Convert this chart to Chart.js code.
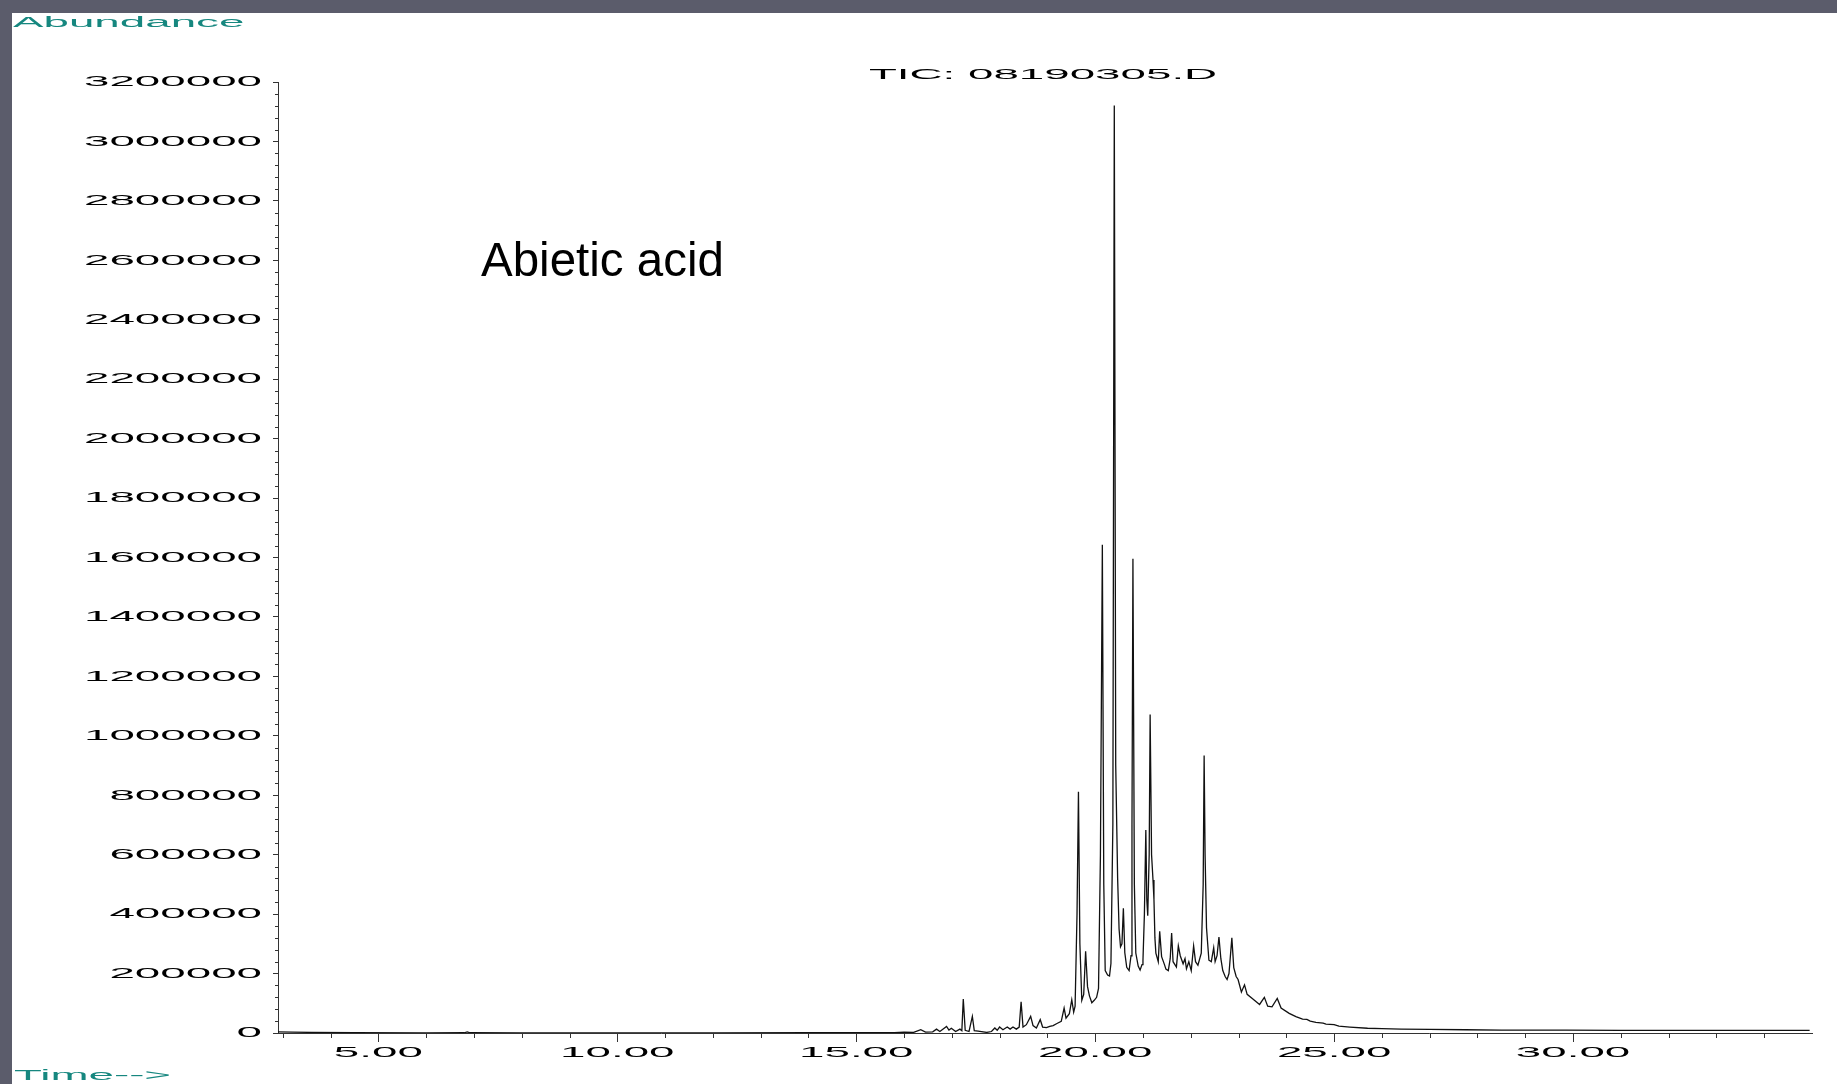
<!DOCTYPE html>
<html>
<head>
<meta charset="utf-8">
<title>TIC: 08190305.D</title>
<script src="https://cdn.jsdelivr.net/npm/chart.js@4.4.0/dist/chart.umd.min.js"></script>
<style>
  html, body { margin: 0; padding: 0; background: #fff; overflow: hidden; }
  canvas { display: block; }
</style>
</head>
<body>
<canvas id="tic" width="1837" height="1084"></canvas>
<script>
// retention time (min) and abundance
const times = [
    2.90, 3.20, 3.60, 4.50, 6.00, 6.80, 6.86, 6.92, 8.00, 10.00,
    12.00, 14.00, 15.00, 15.50, 15.80, 16.00, 16.20, 16.35, 16.45, 16.60,
    16.68, 16.75, 16.89, 16.94, 16.99, 17.08, 17.17, 17.21, 17.24, 17.28,
    17.36, 17.43, 17.47, 17.55, 17.73, 17.83, 17.90, 17.95, 18.00, 18.07,
    18.16, 18.22, 18.28, 18.35, 18.41, 18.45, 18.49, 18.56, 18.65, 18.70,
    18.77, 18.85, 18.90, 18.98, 19.05, 19.12, 19.20, 19.29, 19.35, 19.39,
    19.46, 19.51, 19.55, 19.58, 19.62, 19.65, 19.68, 19.72, 19.76, 19.80,
    19.84, 19.88, 19.93, 19.98, 20.03, 20.07, 20.11, 20.15, 20.18, 20.21,
    20.26, 20.30, 20.33, 20.37, 20.40, 20.43, 20.47, 20.50, 20.53, 20.56,
    20.59, 20.62, 20.66, 20.71, 20.75, 20.77, 20.79, 20.82, 20.85, 20.90,
    20.94, 20.98, 21.00, 21.03, 21.06, 21.08, 21.10, 21.13, 21.15, 21.18,
    21.21, 21.23, 21.25, 21.27, 21.32, 21.35, 21.39, 21.45, 21.48, 21.53,
    21.57, 21.60, 21.63, 21.70, 21.74, 21.78, 21.84, 21.88, 21.91, 21.96,
    22.01, 22.06, 22.10, 22.15, 22.22, 22.26, 22.28, 22.30, 22.33, 22.38,
    22.43, 22.48, 22.51, 22.55, 22.59, 22.63, 22.67, 22.72, 22.76, 22.80,
    22.86, 22.90, 22.95, 22.99, 23.06, 23.125, 23.18, 23.30, 23.44, 23.54,
    23.61, 23.70, 23.81, 23.89, 24.06, 24.20, 24.34, 24.43, 24.50, 24.62,
    24.77, 24.83, 25.00, 25.10, 25.33, 25.70, 26.00, 26.40, 27.00, 27.75,
    28.50, 29.85, 31.00, 33.00, 34.95
];

const abundance = [
    4000, 3000, 2000, 1000, 500, 800, 3500, 800, 500, 500,
    600, 800, 1000, 1500, 1500, 2500, 2000, 11000, 3000, 4000,
    13000, 5000, 22000, 10000, 16000, 5000, 13000, 8000, 114000, 9000,
    5000, 56000, 8000, 6000, 2000, 5000, 17000, 9000, 20000, 11000,
    20000, 13000, 20000, 13000, 20000, 105000, 20000, 28000, 56000, 25000,
    17000, 45000, 20000, 18000, 22000, 25000, 32000, 39000, 84000, 50000,
    65000, 112000, 70000, 90000, 400000, 812000, 300000, 110000, 130000, 275000,
    156000, 125000, 102000, 110000, 120000, 150000, 600000, 1643000, 500000, 210000,
    195000, 192000, 234000, 700000, 3121000, 900000, 520000, 350000, 290000, 300000,
    420000, 270000, 221000, 210000, 260000, 700000, 1596000, 500000, 269000, 225000,
    212000, 230000, 245000, 400000, 683000, 450000, 395000, 600000, 1072000, 600000,
    515000, 449000, 320000, 269000, 240000, 342000, 257000, 230000, 215000, 210000,
    250000, 336000, 240000, 222000, 293000, 260000, 233000, 250000, 216000, 240000,
    210000, 293000, 240000, 228000, 269000, 500000, 934000, 600000, 353000, 245000,
    240000, 287000, 240000, 260000, 323000, 250000, 210000, 190000, 180000, 200000,
    320000, 220000, 190000, 180000, 138000, 162000, 130000, 114000, 96000, 120000,
    90000, 88000, 116000, 84000, 66000, 55000, 47000, 46000, 40000, 36000,
    33000, 30000, 28000, 23000, 20000, 16000, 15000, 13000, 12000, 11000,
    10000, 10000, 9000, 9000, 9000
];

const xTicks = [5, 10, 15, 20, 25, 30];
const yMax = 3200000;
const yStep = 200000;

const stretchX = 2.95;   // the instrument print uses very wide glyphs
const tickFont = { family: 'Liberation Sans', size: 15.5 };

const points = times.map((t, i) => ({ x: t, y: abundance[i] }));

// page backdrop: white sheet with the dark slide border on top and left
const backdrop = {
    id: 'backdrop',
    beforeDraw(chart) {
        const ctx = chart.ctx;
        ctx.save();
        ctx.fillStyle = '#ffffff';
        ctx.fillRect(0, 0, chart.width, chart.height);
        ctx.fillStyle = '#5b5c6b';
        ctx.fillRect(0, 0, chart.width, 13);
        ctx.fillRect(0, 0, 12, chart.height);
        ctx.restore();
    }
};

// draw all canvas text stretched sideways around its anchor point
const wideText = {
    id: 'wideText',
    beforeInit(chart) {
        const ctx = chart.ctx;
        ctx.plainFillText = ctx.fillText;
        ctx.fillText = function (text, x, y) {
            this.save();
            this.translate(x, y);
            this.scale(stretchX, 1);
            this.plainFillText(text, 0, 0);
            this.restore();
        };
    }
};

// minor tick marks, every minute and every 40000 counts
const minorTicks = {
    id: 'minorTicks',
    afterDraw(chart) {
        const { ctx, scales: { x, y } } = chart;
        ctx.save();
        ctx.strokeStyle = '#333';
        ctx.lineWidth = 1;
        ctx.beginPath();
        for (let t = Math.ceil(x.min); t <= x.max; t++) {
            if (t % 5 === 0) continue;
            const px = Math.round(x.getPixelForValue(t)) + 0.5;
            ctx.moveTo(px, y.bottom);
            ctx.lineTo(px, y.bottom + 5);
        }
        for (let v = 0; v <= yMax; v += yStep / 5) {
            if (v % yStep === 0) continue;
            const py = Math.round(y.getPixelForValue(v)) + 0.5;
            ctx.moveTo(x.left - 3, py);
            ctx.lineTo(x.left, py);
        }
        ctx.stroke();
        ctx.restore();
    }
};

const annotations = {
    id: 'annotations',
    afterDraw(chart) {
        const ctx = chart.ctx;
        ctx.save();
        ctx.textBaseline = 'alphabetic';
        ctx.font = '15.5px "Liberation Sans"';
        ctx.fillStyle = '#16877f';
        ctx.textAlign = 'left';
        ctx.fillText('Abundance', 13, 27);
        ctx.fillText('Time-->', 14, 1080);
        ctx.fillStyle = '#000';
        ctx.textAlign = 'center';
        ctx.fillText('TIC: 08190305.D', 1043, 79);
        ctx.font = '47.5px "Liberation Sans"';
        ctx.textAlign = 'left';
        ctx.plainFillText('Abietic acid', 481, 276);
        ctx.restore();
    }
};

const chart = new Chart(document.getElementById('tic'), {
    type: 'line',
    data: {
        datasets: [{
            label: 'TIC: 08190305.D',
            data: points,
            borderColor: '#111',
            borderWidth: 1.3,
            pointRadius: 0,
            tension: 0,
            fill: false
        }]
    },
    options: {
        responsive: false,
        animation: false,
        devicePixelRatio: 1,
        layout: { padding: { left: 0, right: 25, top: 82, bottom: 0 } },
        plugins: {
            legend: { display: false },
            tooltip: { enabled: false }
        },
        scales: {
            x: {
                type: 'linear',
                min: 2.9,
                max: 35.0,
                afterBuildTicks: (scale) => {
                    scale.ticks = xTicks.map(v => ({ value: v }));
                },
                afterFit: (scale) => { scale.height = 51; },
                grid: { drawOnChartArea: false, tickLength: 9, tickColor: '#333' },
                border: { color: '#333', width: 1 },
                ticks: {
                    font: tickFont,
                    color: '#000',
                    padding: 1,
                    maxRotation: 0,
                    autoSkip: false,
                    callback: (v) => Number(v).toFixed(2)
                }
            },
            y: {
                min: 0,
                max: yMax,
                afterFit: (scale) => { scale.width = 278; },
                grid: { drawOnChartArea: false, tickLength: 5, tickColor: '#333' },
                border: { color: '#333', width: 1 },
                ticks: {
                    stepSize: yStep,
                    font: tickFont,
                    color: '#000',
                    padding: 11,
                    callback: (v) => String(v)
                }
            }
        }
    },
    plugins: [backdrop, wideText, minorTicks, annotations]
});
</script>
</body>
</html>
